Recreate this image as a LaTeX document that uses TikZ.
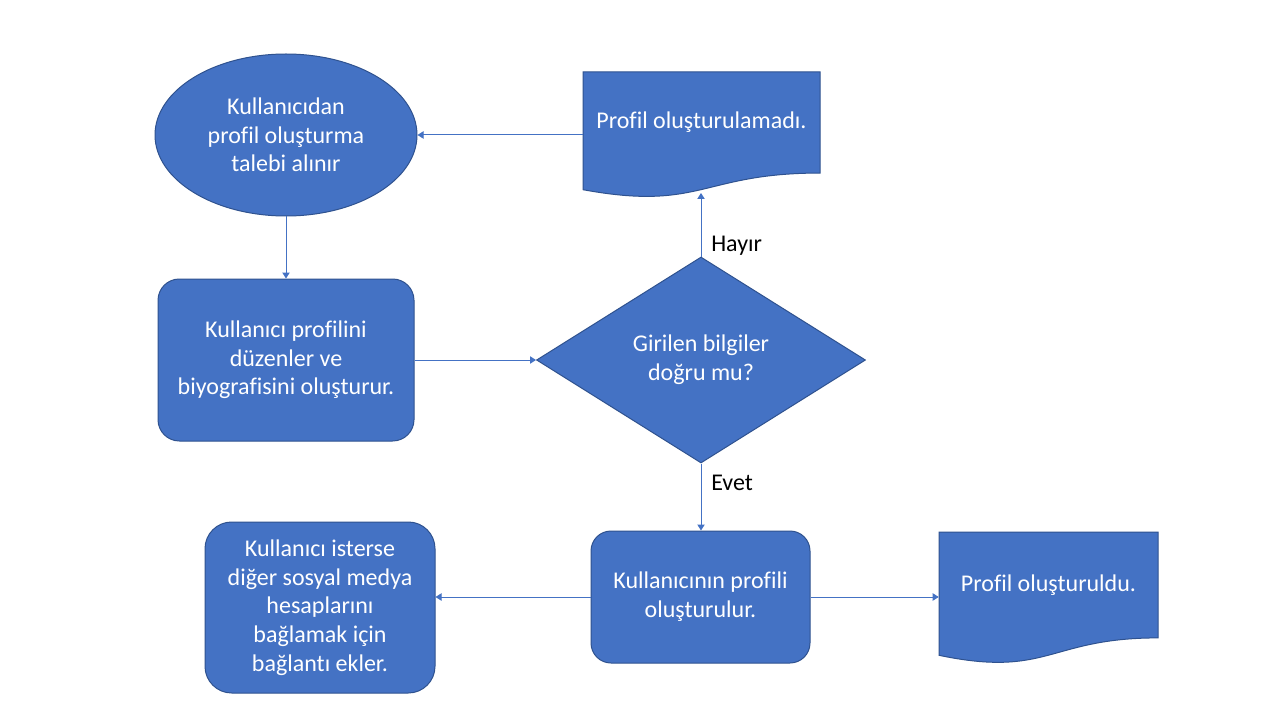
\documentclass[tikz,border=0pt]{standalone}
\usepackage{fontspec}
\setmainfont{Carlito}[Ligatures=NoCommon]
\usetikzlibrary{shapes.geometric,arrows.meta}
\definecolor{boxfill}{HTML}{4472C4}
\definecolor{boxline}{HTML}{2F528F}
\tikzset{
  shapebox/.style={fill=boxfill, draw=boxline, line width=0.75pt, text=white, align=center, inner sep=0pt,
     font=\fontsize{18pt}{21.5pt}\selectfont},
  roundbox/.style={shapebox, rectangle, rounded corners=#1},
  docbox/.style={rectangle, draw=none, text=white, align=center, inner sep=0pt,
     font=\fontsize{18pt}{21.5pt}\selectfont},
  conn/.style={draw=boxfill, line width=0.75pt, -{Triangle[width=5.5pt,length=4.5pt]}},
  lbl/.style={text=black, inner sep=0pt, anchor=base west, font=\fontsize{18pt}{21.5pt}\selectfont},
}
\begin{document}
\begin{tikzpicture}[x=0.75pt,y=-0.75pt]
\useasboundingbox (0,0) rectangle (1280,720);
\fill[white] (0,0) rectangle (1280,720);

% ellipse
\node[shapebox, ellipse, minimum width=196.5pt, minimum height=121.5pt] (ell) at (286,135)
  {Kullanıcıdan\\profil oluşturma\\talebi alınır};

% rect 1
\node[roundbox=16pt, minimum width=192pt, minimum height=121.5pt] (r1) at (286,360)
  {Kullanıcı profilini\\düzenler ve\\biyografisini oluşturur.};

% diamond
\node[shapebox, diamond, minimum width=246.75pt, minimum height=154.5pt] (dia) at (701,360)
  {Girilen bilgiler\\doğru mu?};

% document 1
\fill[boxfill, draw=boxline, line width=0.75pt]
  (583,72) -- (820,72) -- (820,173.05) .. controls (701.5,173.05) and (701.5,211.5) .. (583,189.7) -- cycle;
\node[docbox, minimum width=177.75pt, minimum height=75.75pt] (doc1) at (701.5,122.5)
  {Profil oluşturulamadı.};
\coordinate (d1b) at (701,193);

% rect 3
\node[roundbox=15pt, minimum width=164.25pt, minimum height=99pt] (r3) at (700.5,597)
  {Kullanıcının profili\\oluşturulur.};

% rect 4
\node[roundbox=20pt, minimum width=172.5pt, minimum height=128.25pt] (r4) at (320,607.5)
  {Kullanıcı isterse\\diğer sosyal medya\\hesaplarını\\bağlamak için\\bağlantı ekler.};

% document 2
\fill[boxfill, draw=boxline, line width=0.75pt]
  (939,532) -- (1158,532) -- (1158,637.9) .. controls (1048.5,637.9) and (1048.5,678.2) .. (939,655.3) -- cycle;
\node[docbox, minimum width=164.25pt, minimum height=79.5pt] (doc2) at (1048.5,585)
  {Profil oluşturuldu.};

% connectors
\draw[conn] (ell.south) -- (r1.north);
\draw[conn] (r1.east) -- (dia.west);
\draw[conn] (dia.north) -- (d1b);
\draw[conn] (ell.east -| doc1.west) -- (ell.east);
\draw[conn] (dia.south) -- (dia.south |- r3.north);
\draw[conn] (r3.west) -- (r4.east |- r3.west);
\draw[conn] (r3.east) -- (r3.east -| doc2.west);

% labels
\node[lbl] (hayir) at (711,252) {Hayır};
\node[lbl] (evet) at (711,490) {Evet};
\end{tikzpicture}
\end{document}
